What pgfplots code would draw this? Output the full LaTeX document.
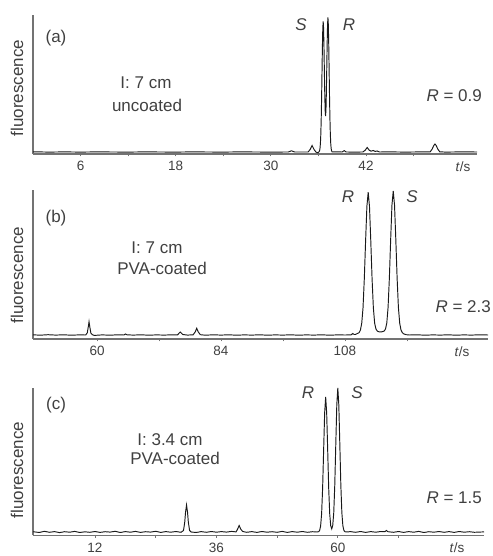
\documentclass[border=0pt]{standalone}
\usepackage{pgfplots}
\pgfplotsset{compat=1.18}
\usepackage{fontspec}
\setmainfont{Liberation Sans}
\definecolor{axgray}{gray}{0.45}
\definecolor{txt}{gray}{0.25}
\newcommand\ann{\fontsize{17}{19}\selectfont}
\newcommand\tck{\fontsize{13.5}{15}\selectfont}
\pgfplotsset{
 panel/.style={
   scale only axis, clip=false,
   axis lines*=left,
   axis line style={axgray, line width=1.3pt},
   ytick=\empty,
   tick align=outside,
   major tick length=2.5pt, minor tick length=2.5pt,
   every tick/.style={axgray, line width=0.8pt},
   tick label style={font=\tck, text=txt},
   /pgf/number format/assume math mode=true,
   xticklabel style={yshift=-1.5pt},
   ymin=0,
 },
 trace/.style={black!90, line width=0.95pt, mark=none},
}
\begin{document}
\begin{tikzpicture}[x=1pt,y=1pt]
\useasboundingbox (0,0) rectangle (492,556);
% ---------------- (a)
\begin{axis}[panel, at={(33pt,402pt)}, width=444pt, height=139pt,
  xmin=0, xmax=56, ymax=139,
  xtick={6,18,30,42}, minor xtick={12,24,36,48}]
\addplot[trace] coordinates {
(0,2.2) (2,1.9) (4,2.1) (6,1.9) (8,2.1) (10,2.0) (12,1.9) (14,2.1) (16,2.0) (18,1.9) (20,2.1) (22,2.0) (24,1.9) (26,2.1) (28,2.0) (30,1.9) (32.2,2.0) (32.6,3.2) (33.0,2.0) (34.7,2.0) (34.95,4.5) (35.2,8.5) (35.45,4.5) (35.7,1.8) (35.95,1.2) (36.05,2.0)
(36.10,2.5) (36.15,3.4) (36.20,5.7) (36.25,10.6) (36.30,19.6) (36.35,34.5) (36.40,55.6) (36.45,81.2) (36.50,106.5) (36.55,125.5) (36.60,132.5) (36.65,125.7) (36.70,107.0) (36.75,82.7) (36.80,59.4) (36.85,43.4) (36.90,37.8) (36.95,44.1) (37.00,61.0) (37.05,85.0) (37.10,110.2) (37.15,129.3) (37.20,136.5) (37.25,129.2) (37.30,109.7) (37.35,83.6) (37.40,57.3) (37.45,35.5) (37.50,20.2) (37.55,10.9) (37.60,5.8) (37.65,3.5) (37.70,2.5) (37.75,2.0)
(38.4,2.1) (39.0,2.0) (39.25,3.4) (39.5,2.0) (40.5,1.9) (41.6,2.0) (41.9,3.8) (42.15,6.5) (42.4,3.8) (42.65,2.8) (42.9,3.5) (43.15,2.6) (43.4,3.0) (43.7,2.0) (45,2.1) (47,1.9) (49,2.1) (50.1,2.2) (50.35,5) (50.55,8.5) (50.7,10) (50.85,8.5) (51.05,5) (51.3,2.2) (52,1.9) (54,2.1) (56,2.0)
};
\end{axis}
% ---------------- (b)
\begin{axis}[panel, at={(33pt,217pt)}, width=455pt, height=149pt,
  xmin=47.6, xmax=135.7, ymax=149,
  xtick={60,84,108}, minor xtick={72,96,120}]
\addplot[trace] coordinates {
(47.6,4.2) (49,3.8) (50.5,4.3) (52,3.9) (53.5,4.2) (55,3.8) (56.5,4.1) (57.8,4) (58.1,6) (58.3,12) (58.45,17.3) (58.6,12) (58.8,6) (59.1,4.2) (59.5,3.6) (61,4.1) (62.5,3.8) (64,4.2) (65.2,4.0) (65.5,5) (65.8,4.2) (67,3.9) (68.5,4.2) (70,3.8) (71.5,4.1) (73,3.9) (74.5,4.2) (75.6,4.2) (76.1,7) (76.6,4.5) (77.5,3.9) (78.6,4.2) (79.0,7) (79.3,10.7) (79.6,7) (80.0,4.3) (81,3.8) (82.5,4.2) (84,3.9) (85.5,4.2) (87,3.8) (88.5,4.1) (90,3.9) (91.5,4.2) (93,3.8) (94.5,4.1) (96,3.9) (97.5,4.2) (99,3.8) (100.5,4.1) (102,3.9) (103.5,4.2) (105,3.8) (106.5,4.1) (108,4.0) (109.2,4.1) (109.5,5.5) (109.8,4.5)
(110.0,4.5) (110.5,5.7) (110.75,6.4) (111.0,9.0) (111.25,15.8) (111.5,31.3) (111.75,60.4) (112.0,98.3) (112.25,132.7) (112.5,146.7) (112.75,132.7) (113.0,98.3) (113.25,60.4) (113.5,31.3) (113.75,15.8) (114.0,10.0) (114.25,8.0) (114.5,7.3) (114.9,7.0) (115.3,7.4) (115.6,8.0) (115.85,10.0) (116.1,15.9) (116.35,31.5) (116.6,60.9) (116.85,99.2) (117.1,133.9) (117.35,148) (117.6,133.9) (117.85,99.2) (118.1,60.9) (118.35,31.5) (118.6,15.9) (118.85,9.0) (119.1,6.4) (119.35,5.2) (119.85,4.3) (120.5,4.0)
(122,4.2) (123.5,3.8) (125,4.1) (126.5,3.9) (128,4.2) (129.5,3.8) (131,4.1) (132.5,3.9) (134,4.2) (135.7,4.0)
};
\end{axis}
% ---------------- (c)
\begin{axis}[panel, at={(33pt,20.5pt)}, width=451pt, height=147.5pt,
  xmin=-0.25, xmax=88.9, ymax=147.5,
  xtick={12,36,60}, minor xtick={24,48,72}]
\addplot[trace] coordinates {
(-0.25,3.8) (1,3.0) (2,4.2) (3,3.2) (4,3.9) (5,2.9) (6,3.8) (7,3.3) (8,4.1) (9,3.0) (10,3.7) (11,3.2) (12,4.0) (13,3.1) (14,3.8) (15,3.4) (16,4.2) (17,3.0) (18,3.9) (19,3.3) (20,4.1) (21,3.1) (22,3.8) (23,3.4) (24,4.2) (25,3.1) (26,3.9) (27,3.3) (28,4.0) (29,3.2) (29.5,5.0) (29.75,13.6) (29.9,23.1) (30.1,30.5) (30.3,23.1) (30.45,13.6) (30.7,5.0) (31,3.5) (32,3.0) (33,3.9) (34,3.2) (35,4.0) (36,3.3) (37,3.9) (38,3.4) (39,4.1) (39.9,3.6) (40.2,6.5) (40.5,10) (40.8,6.5) (41.2,4.0) (42,3.2) (43,3.9) (44,3.1) (45,4.0) (46,3.3) (47,3.8) (48,3.2) (49,4.1) (50,3.1) (51,3.9) (52,3.3) (53,4.0) (54,3.2) (55,3.8)
(55.8,3.5) (56.2,3.8) (56.4,5.0) (56.6,9.4) (56.8,21.7) (57.0,47.4) (57.2,85.4) (57.4,122.6) (57.6,138.5) (57.8,122.6) (58.0,85.4) (58.2,47.4) (58.4,21.7) (58.6,9.7) (58.8,6.6) (59.0,10.1) (59.2,22.9) (59.4,50.3) (59.6,90.9) (59.8,130.5) (60.0,147.5) (60.2,130.5) (60.4,90.9) (60.6,50.3) (60.8,22.9) (61.0,9.8) (61.2,5.1) (61.4,3.8) (61.8,3.5)
(62.5,3.9) (63.5,3.2) (64.5,4.0) (65.5,3.1) (66.5,3.9) (67.5,3.3) (68.5,4.0) (69.3,3.8) (69.6,5.0) (69.9,3.8) (71,3.2) (72,4.0) (73,3.1) (74,3.9) (75,3.3) (76,4.1) (77,3.0) (78,3.8) (79,3.3) (80,4.0) (81,3.2) (82,3.9) (83,3.1) (84,4.0) (85,3.3) (86,3.8) (87,3.2) (88.9,3.6)
};
\end{axis}
% ---------------- annotations
\begin{scope}[every node/.style={text=txt, font=\ann, inner sep=0pt}]
% (a)
\node at (17,468) [rotate=90] {fluorescence};
\node at (56,518) {(a)};
\node at (146,473) {I: 7 cm};
\node at (147,451) {uncoated};
\node[anchor=east] at (482,460) {\textit{R} = 0.9};
\node at (301,531) {\textit{S}};
\node at (349,531) {\textit{R}};
\node[font=\tck] at (463,389) {\textit{t}/s};
% (b)
\node at (17,281) [rotate=90] {fluorescence};
\node at (56,338) {(b)};
\node at (157,308) {I: 7 cm};
\node at (162,288) {PVA-coated};
\node[anchor=east] at (491,249) {\textit{R} = 2.3};
\node at (348,359) {\textit{R}};
\node at (412,359) {\textit{S}};
\node[font=\tck] at (462,204) {\textit{t}/s};
% (c)
\node at (17,86) [rotate=90] {fluorescence};
\node at (56,151) {(c)};
\node at (170,116) {I: 3.4 cm};
\node at (175,98) {PVA-coated};
\node[anchor=east] at (482,58) {\textit{R} = 1.5};
\node at (308,163) {\textit{R}};
\node at (357,163) {\textit{S}};
\node[font=\tck] at (457,8) {\textit{t}/s};
\end{scope}
\end{tikzpicture}
\end{document}
